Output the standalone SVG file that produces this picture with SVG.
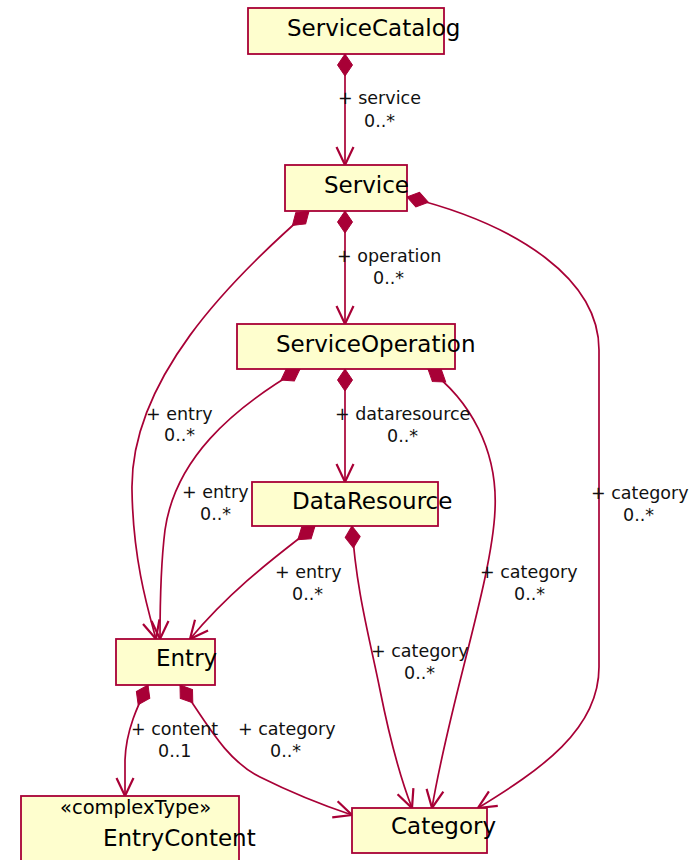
<svg xmlns="http://www.w3.org/2000/svg" width="699" height="860" viewBox="0 0 699 860">
  <style>
    .box { fill: #FEFECE; stroke: #A80036; stroke-width: 1.8; }
    .title { font-family: "DejaVu Sans", "Liberation Sans", sans-serif; font-size: 23px; fill: #000; }
    .stereo { font-family: "DejaVu Sans", "Liberation Sans", sans-serif; font-size: 19.5px; fill: #000; }
    .lbl { font-family: "DejaVu Sans", "Liberation Sans", sans-serif; font-size: 17.5px; fill: #111; }
    .edge { fill: none; stroke: #A80036; stroke-width: 1.7; marker-start: url(#diamond); marker-end: url(#arrow); }
  </style>
  <defs>
    <marker id="diamond" markerUnits="userSpaceOnUse" orient="auto" refX="0" refY="0" markerWidth="24" markerHeight="16" overflow="visible">
      <path d="M0,0 L11,-7.5 L22,0 L11,7.5 Z" fill="#A80036" stroke="#A80036" stroke-width="1"/>
    </marker>
    <marker id="arrow" markerUnits="userSpaceOnUse" orient="auto" refX="0" refY="0" markerWidth="20" markerHeight="18" overflow="visible">
      <path d="M-18,-8.5 L0,0 L-18,8.5" fill="none" stroke="#A80036" stroke-width="2.2" stroke-linejoin="miter"/>
    </marker>
  </defs>

  <!-- composition associations -->
  <g id="connectors">
    <path class="edge" d="M345,54 L345,165"/>
    <path class="edge" d="M345,211 L345,324"/>
    <path class="edge" d="M345,369 L345,482"/>
    <path class="edge" d="M309,211 C230,280 130,380 132,490 C133,560 148,610 156,639"/>
    <path class="edge" d="M300,369 C230,410 175,460 165,530 C160,570 160,610 160,639"/>
    <path class="edge" d="M315,526 C285,550 235,585 190,639"/>
    <path class="edge" d="M352,526 C356,590 370,640 380,690 C392,750 405,790 412,808"/>
    <path class="edge" d="M428,369 C470,400 498,450 495,510 C492,580 450,700 432,808"/>
    <path class="edge" d="M407,197 C520,225 599,280 599,350 L599,667 C599,730 540,770 478,808"/>
    <path class="edge" d="M148,685 C138,705 126,730 125,760 L125,796"/>
    <path class="edge" d="M180,685 C205,720 225,760 260,777 C290,792 325,806 352,815"/>
  </g>

  <g id="labels">
    <text class="lbl" x="338" y="104">+ service</text>
    <text class="lbl" x="364" y="127">0..*</text>
    <text class="lbl" x="337" y="262">+ operation</text>
    <text class="lbl" x="373" y="284">0..*</text>
    <text class="lbl" x="335" y="420">+ dataresource</text>
    <text class="lbl" x="387" y="442">0..*</text>
    <text class="lbl" x="146" y="420">+ entry</text>
    <text class="lbl" x="164" y="441">0..*</text>
    <text class="lbl" x="182" y="498">+ entry</text>
    <text class="lbl" x="200" y="520">0..*</text>
    <text class="lbl" x="275" y="578">+ entry</text>
    <text class="lbl" x="292" y="600">0..*</text>
    <text class="lbl" x="371" y="657">+ category</text>
    <text class="lbl" x="404" y="679">0..*</text>
    <text class="lbl" x="480" y="578">+ category</text>
    <text class="lbl" x="514" y="600">0..*</text>
    <text class="lbl" x="591" y="499">+ category</text>
    <text class="lbl" x="623" y="521">0..*</text>
    <text class="lbl" x="131" y="735">+ content</text>
    <text class="lbl" x="158" y="757">0..1</text>
    <text class="lbl" x="238" y="735">+ category</text>
    <text class="lbl" x="270" y="757">0..*</text>
  </g>

  <g id="ServiceCatalog">
    <rect class="box" x="248" y="8" width="196" height="46"/>
    <text class="title" x="287" y="36">ServiceCatalog</text>
  </g>
  <g id="Service">
    <rect class="box" x="285" y="165" width="122" height="46"/>
    <text class="title" x="324" y="193">Service</text>
  </g>
  <g id="ServiceOperation">
    <rect class="box" x="237" y="324" width="218" height="45"/>
    <text class="title" x="276" y="352">ServiceOperation</text>
  </g>
  <g id="DataResource">
    <rect class="box" x="252" y="482" width="186" height="44"/>
    <text class="title" x="292" y="509">DataResource</text>
  </g>
  <g id="Entry">
    <rect class="box" x="116" y="639" width="99" height="46"/>
    <text class="title" x="156" y="666">Entry</text>
  </g>
  <g id="EntryContent">
    <rect class="box" x="21" y="796" width="218" height="80"/>
    <text class="stereo" x="60" y="814">«complexType»</text>
    <text class="title" x="103" y="846">EntryContent</text>
  </g>
  <g id="Category">
    <rect class="box" x="352" y="808" width="135" height="45"/>
    <text class="title" x="391" y="834">Category</text>
  </g>
</svg>
